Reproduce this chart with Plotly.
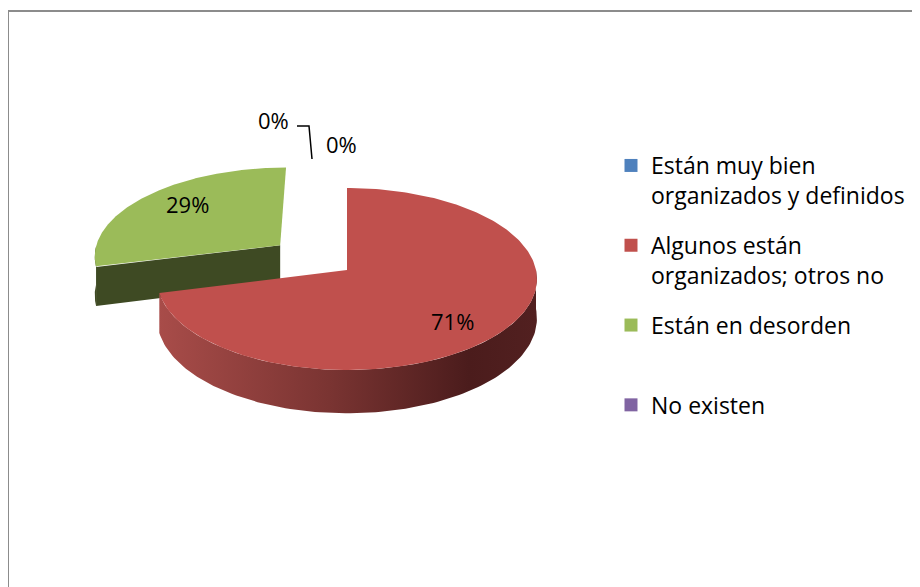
import numpy as np
import plotly.graph_objects as go

# ---- data ----
categories = ["Están muy bien<br>organizados y definidos",
              "Algunos están<br>organizados; otros no",
              "Están en desorden",
              "No existen"]
values = [0, 71, 29, 0]
pct_labels = ["0%", "71%", "29%", "0%"]
exploded = [False, False, True, False]

# ---- style ----
top_colors = ["#4F81BD", "#C0504D", "#9BBB59", "#8064A2"]
side_colors = ["#2C4A6E", "#7A3432", "#3E4A23", "#4A3A60"]
red_wall_scale = [[0, "#A84C49"], [0.45, "#7A3432"], [0.82, "#4B1C1C"], [1, "#522020"]]
label_lift = [0, 0.3, -0.2, 0]
FONT = "Open Sans"
FS = 22
LFS = 23

W, Hh = 920, 587
OFF = 8  # page body margin: screen pixel = figure pixel + 8
CX, CY = 347, 270
RX, RY = 189, 90.1
K = 0.099
DEPTH = 39
EXPLODE = 0.46


def proj(u, v, z=0.0):
    w = 1.0 / (1.0 - K * v)
    return CX + RX * u * w, CY + RY * v * w + DEPTH * z * w


def rim(theta_deg, off):
    t = np.radians(theta_deg)
    return off[0] + np.sin(t), off[1] - np.cos(t)


fig = go.Figure()

total = float(sum(values))
cum = np.concatenate([[0], np.cumsum(values)]) / total * 360.0
slices = []
for i, v in enumerate(values):
    a0, a1 = cum[i], cum[i + 1]
    mid = np.radians((a0 + a1) / 2)
    off = (EXPLODE * np.sin(mid), -EXPLODE * np.cos(mid)) if exploded[i] else (0.0, 0.0)
    slices.append((i, a0, a1, mid, off))

# draw back slices first
order = sorted([s for s in slices if values[s[0]] > 0], key=lambda s: -np.cos(s[3]))
for i, a0, a1, mid, off in order:
    polys = []
    # cut faces
    for edge, normal in ((a0, a0 - 90), (a1, a1 + 90)):
        if -np.cos(np.radians(normal)) > 0.02:
            ru, rv = rim(edge, off)
            pts = [proj(off[0], off[1], 0), proj(ru, rv, 0), proj(ru, rv, 1), proj(off[0], off[1], 1)]
            polys.append(("cut", pts))
    # outer wall (front half)
    lo, hi = max(a0, 90), min(a1, 270)
    if hi > lo:
        th = np.linspace(lo, hi, 120)
        topp = [proj(*rim(t, off), 0) for t in th]
        botp = [proj(*rim(t, off), 1) for t in th[::-1]]
        polys.append(("wall", topp + botp))
    for kind, pts in polys:
        xs = [p[0] for p in pts] + [pts[0][0]]
        ys = [p[1] for p in pts] + [pts[0][1]]
        kw = {}
        if kind == "wall" and i == 1:
            kw["fillgradient"] = dict(type="horizontal", colorscale=red_wall_scale)
        fig.add_trace(go.Scatter(x=xs, y=ys, mode="lines", fill="toself",
                                 fillcolor=side_colors[i], line=dict(width=0, color=side_colors[i]),
                                 hoverinfo="skip", showlegend=False, **kw))
    # top face
    th = np.linspace(a0, a1, 240)
    pts = [proj(off[0], off[1], 0)] + [proj(*rim(t, off), 0) for t in th]
    xs = [p[0] for p in pts] + [pts[0][0]]
    ys = [p[1] for p in pts] + [pts[0][1]]
    fig.add_trace(go.Scatter(x=xs, y=ys, mode="lines", fill="toself",
                             fillcolor=top_colors[i], line=dict(width=0, color=top_colors[i]),
                             hoverinfo="skip", showlegend=False))

# percentage labels
annotations = []
LR = 0.68
zero_offsets = [(-74, -68), (-6, -44)]
zi = 0
for i, a0, a1, mid, off in slices:
    if values[i] > 0:
        x, y = proj(off[0] + LR * np.sin(mid), off[1] - LR * np.cos(mid), label_lift[i])
        annotations.append(dict(x=x, y=y, text=pct_labels[i], showarrow=False,
                                font=dict(family=FONT, size=FS, color="black")))
    else:
        tx, ty = proj(*rim(a0, off), 0)
        dx, dy = zero_offsets[zi]
        zi += 1
        annotations.append(dict(x=tx + dx, y=ty + dy, text=pct_labels[i], showarrow=False,
                                font=dict(family=FONT, size=FS, color="black")))

# leader line for the zero labels
tx, ty = proj(*rim(0, (0, 0)), 0)
shapes = [
    dict(type="path", xref="x", yref="y",
         path=f"M{tx-50},{ty-62} L{tx-38},{ty-62} L{tx-35},{ty-29}",
         line=dict(color="black", width=1.5)),
    dict(type="rect", xref="x", yref="y", x0=8, y0=11, x1=960, y1=640,
         line=dict(color="#8C8C8C", width=2), fillcolor="rgba(0,0,0,0)"),
]

# legend entries
for i, cat in enumerate(categories):
    name = cat + ("<br>\u00a0" if i == 2 else "")
    fig.add_trace(go.Scatter(x=[None], y=[None], mode="markers", name=name,
                             marker=dict(symbol="square", size=13, color=top_colors[i]),
                             legendgroup=str(i), showlegend=True))

fig.update_layout(
    width=W, height=Hh,
    margin=dict(l=0, r=0, t=0, b=0),
    paper_bgcolor="white", plot_bgcolor="white",
    xaxis=dict(range=[OFF, W + OFF], visible=False, fixedrange=True),
    yaxis=dict(range=[Hh + OFF, OFF], visible=False, fixedrange=True),
    annotations=annotations,
    shapes=shapes,
    showlegend=True,
    legend=dict(x=(611 - OFF) / W, y=1 - (144 - OFF) / Hh, xanchor="left", yanchor="top",
                valign="top", tracegroupgap=17, itemsizing="trace",
                font=dict(family=FONT, size=LFS, color="black"),
                bgcolor="rgba(0,0,0,0)"),
)

fig.write_html("out.html")
